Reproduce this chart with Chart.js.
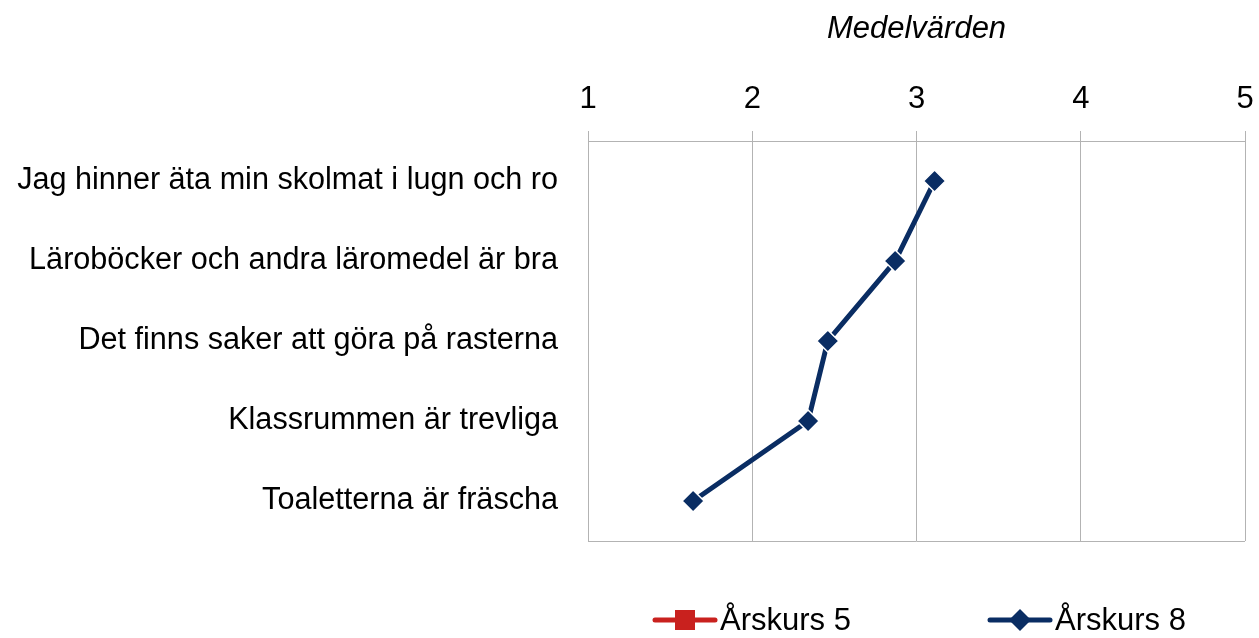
<!DOCTYPE html>
<html>
<head>
<meta charset="utf-8">
<script src="https://cdn.jsdelivr.net/npm/chart.js@4/dist/chart.umd.min.js"></script>
<style>
  html, body { margin: 0; padding: 0; background: #fff; }
  #wrap { width: 1259px; height: 638px; }
</style>
</head>
<body>
<div id="wrap"><canvas id="chart"></canvas></div>
<script>
var categories = [
    "Jag hinner äta min skolmat i lugn och ro",
    "Läroböcker och andra läromedel är bra",
    "Det finns saker att göra på rasterna",
    "Klassrummen är trevliga",
    "Toaletterna är fräscha"
];
var seriesNames = ["Årskurs 5", "Årskurs 8"];
var arskurs5 = [null, null, null, null, null];
var arskurs8 = [3.11, 2.87, 2.46, 2.34, 1.64];
var xTicks = [1, 2, 3, 4, 5];
var axisTitle = "Medelvärden";

var RED = '#c9211e';
var BLUE = '#0a2d63';
var GRID = '#b3b3b3';
var FONT = "'Liberation Sans', Arial, sans-serif";

// bottom border of plot + custom legend (line + marker like the original)
var framePlugin = {
    id: 'framePlugin',
    beforeDatasetsDraw: function (chart) {
        var a = chart.chartArea, ctx = chart.ctx;
        ctx.save();
        ctx.strokeStyle = GRID;
        ctx.lineWidth = 1;
        ctx.beginPath();
        ctx.moveTo(a.left, a.bottom + 0.5);
        ctx.lineTo(a.right, a.bottom + 0.5);
        ctx.stroke();
        ctx.restore();
    },
    afterDraw: function (chart) {
        var ctx = chart.ctx, a = chart.chartArea;
        var y = 620;
        var items = [
            {x: a.left + 67, color: RED, style: 'rect', text: seriesNames[0]},
            {x: a.left + 402, color: BLUE, style: 'rectRot', text: seriesNames[1]}
        ];
        ctx.save();
        items.forEach(function (it) {
            ctx.strokeStyle = it.color;
            ctx.lineWidth = 5;
            ctx.lineCap = 'round';
            ctx.beginPath();
            ctx.moveTo(it.x, y);
            ctx.lineTo(it.x + 60, y);
            ctx.stroke();
            ctx.fillStyle = it.color;
            var cx = it.x + 30;
            if (it.style === 'rect') {
                ctx.fillRect(cx - 10, y - 10, 20, 20);
            } else {
                ctx.beginPath();
                ctx.moveTo(cx, y - 11);
                ctx.lineTo(cx + 11, y);
                ctx.lineTo(cx, y + 11);
                ctx.lineTo(cx - 11, y);
                ctx.closePath();
                ctx.fill();
            }
            ctx.fillStyle = '#000';
            ctx.font = '31px ' + FONT;
            ctx.textBaseline = 'middle';
            ctx.textAlign = 'left';
            ctx.fillText(it.text, it.x + 65, y + 1);
        });
        ctx.restore();
    }
};

var ctx = document.getElementById('chart');
new Chart(ctx, {
    type: 'line',
    data: {
        labels: categories,
        datasets: [
            {
                label: seriesNames[0],
                data: arskurs5,
                borderColor: RED,
                backgroundColor: RED,
                borderWidth: 5,
                pointStyle: 'rect',
                pointRadius: 10,
                pointBorderColor: '#fff',
                pointBorderWidth: 1
            },
            {
                label: seriesNames[1],
                data: arskurs8,
                borderColor: BLUE,
                backgroundColor: BLUE,
                borderWidth: 5,
                pointStyle: 'rectRot',
                pointRadius: 11,
                pointHoverRadius: 11,
                pointBorderColor: '#fff',
                pointBorderWidth: 1.5
            }
        ]
    },
    options: {
        indexAxis: 'y',
        responsive: true,
        maintainAspectRatio: false,
        animation: false,
        layout: { padding: { top: 0, right: 14, bottom: 97, left: 0 } },
        plugins: {
            legend: { display: false },
            tooltip: { enabled: false }
        },
        scales: {
            x: {
                type: 'linear',
                position: 'top',
                min: xTicks[0],
                max: xTicks[xTicks.length - 1],
                afterBuildTicks: function (scale) {
                    scale.ticks = xTicks.map(function (v) { return {value: v}; });
                },
                afterFit: function (scale) {
                    scale.height = 141;
                    scale.paddingLeft = 0;
                    scale.paddingRight = 0;
                },
                grid: { color: GRID, lineWidth: 1, tickLength: 10 },
                border: { display: true, color: GRID },
                ticks: {
                    color: '#000',
                    padding: 13,
                    font: { family: FONT, size: 31 }
                },
                title: {
                    display: true,
                    text: axisTitle,
                    color: '#000',
                    padding: { top: 11, bottom: 0 },
                    font: { family: FONT, size: 31, style: 'italic' }
                }
            },
            y: {
                type: 'category',
                offset: true,
                afterFit: function (scale) { scale.width = 588; },
                grid: { display: false, drawTicks: false },
                border: { display: true, color: GRID },
                ticks: {
                    color: '#000',
                    padding: 30,
                    font: { family: FONT, size: 30.6 }
                }
            }
        }
    },
    plugins: [framePlugin]
});
</script>
</body>
</html>
